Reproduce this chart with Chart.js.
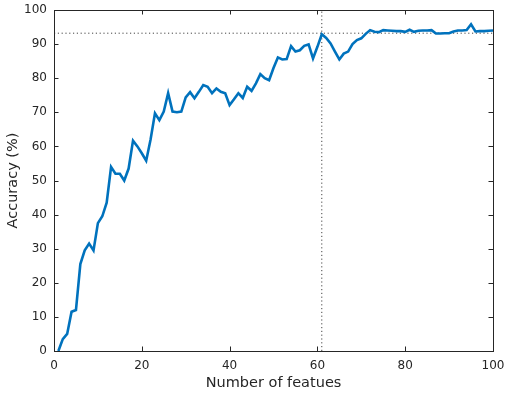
<!DOCTYPE html>
<html>
<head>
<meta charset="utf-8">
<script src="https://cdn.jsdelivr.net/npm/chart.js@4/dist/chart.umd.min.js"></script>
<style>
  html,body{margin:0;padding:0;background:#fff;}
  canvas{display:block;}
</style>
</head>
<body>
<canvas id="c" width="510" height="395"></canvas>
<script>
// number of features (x) and classification accuracy in % (y)
const features = [1,2,3,4,5,6,7,8,9,10,11,12,13,14,15,16,17,18,19,20,
  21,22,23,24,25,26,27,28,29,30,31,32,33,34,35,36,37,38,39,40,
  41,42,43,44,45,46,47,48,49,50,51,52,53,54,55,56,57,58,59,60,
  61,62,63,64,65,66,67,68,69,70,71,72,73,74,75,76,77,78,79,80,
  81,82,83,84,85,86,87,88,89,90,91,92,93,94,95,96,97,98,99,100];
const accuracy = [0,3.5,5,11.5,12,25.5,29.5,31.5,29.5,37.5,
  39.5,43.5,54,52,52,50,53.5,61.7,60,58,
  55.8,62,69.7,67.7,70.2,75.6,70.2,70,70.2,74.4,
  75.9,74.1,76,78,77.5,75.6,77,76,75.6,72.1,
  73.8,75.6,74.2,77.5,76.3,78.5,81.2,80,79.4,83,
  86.1,85.5,85.6,89.4,87.8,88.2,89.5,89.9,85.8,89.2,
  92.9,91.8,90.2,87.8,85.5,87.2,87.8,90,91.2,91.7,
  93,94.1,93.6,93.5,94.1,94,93.9,93.8,93.8,93.6,
  94.2,93.6,93.9,94,94,94.1,93.1,93.1,93.2,93.2,
  93.7,94,94,94.1,95.8,93.7,93.8,93.8,93.9,94];
const bestFeatures = 61;
const bestAccuracy = 93.2;
const xTicks = [0,20,40,60,80,100];
const yTicks = [0,10,20,30,40,50,60,70,80,90,100];

const axisColor = '#262626';
const fontFam = '"DejaVu Sans", sans-serif';

// MATLAB style box with ticks pointing inward
const boxPlugin = {
  id:'box',
  afterDatasetsDraw(chart){
    const {ctx, chartArea:a, scales:{x,y}} = chart;
    ctx.save();
    ctx.strokeStyle = axisColor;
    ctx.lineWidth = 1;
    const L = 4.5;
    ctx.beginPath();
    xTicks.forEach(v=>{
      const px = Math.round(x.getPixelForValue(v))+0.5;
      ctx.moveTo(px,a.bottom); ctx.lineTo(px,a.bottom-L);
      ctx.moveTo(px,a.top); ctx.lineTo(px,a.top+L);
    });
    yTicks.forEach(v=>{
      const py = Math.round(y.getPixelForValue(v))+0.5;
      ctx.moveTo(a.left,py); ctx.lineTo(a.left+L,py);
      ctx.moveTo(a.right,py); ctx.lineTo(a.right-L,py);
    });
    ctx.stroke();
    ctx.strokeRect(Math.round(a.left)+0.5, Math.round(a.top)+0.5,
      Math.round(a.right-a.left), Math.round(a.bottom-a.top));
    ctx.restore();
  }
};

new Chart(document.getElementById('c'),{
  type:'line',
  data:{datasets:[
    {data:features.map((f,i)=>({x:f,y:accuracy[i]})),
     borderColor:'#0072BD',borderWidth:2.6,pointRadius:0,tension:0,fill:false},
    {data:[{x:0,y:bestAccuracy},{x:100,y:bestAccuracy}],
     borderColor:'#444',borderWidth:1,borderDash:[1.2,2.6],pointRadius:0},
    {data:[{x:bestFeatures,y:0},{x:bestFeatures,y:100}],
     borderColor:'#444',borderWidth:1,borderDash:[1.2,2.6],pointRadius:0}
  ]},
  options:{
    responsive:false,animation:false,
    layout:{padding:{top:10,right:17,left:0,bottom:0}},
    plugins:{legend:{display:false},tooltip:{enabled:false}},
    scales:{
      x:{type:'linear',min:0,max:100,
        afterBuildTicks:s=>{s.ticks=xTicks.map(v=>({value:v}));},
        afterFit:s=>{s.height=44;s.paddingLeft=0;s.paddingRight=0;},
        grid:{display:false,drawTicks:false},border:{display:false},
        ticks:{color:axisColor,padding:8,maxRotation:0,font:{family:fontFam,size:12}},
        title:{display:true,text:'Number of featues',color:axisColor,
          font:{family:fontFam,size:14.5},padding:{top:0,bottom:3}}},
      y:{min:0,max:100,
        afterBuildTicks:s=>{s.ticks=yTicks.map(v=>({value:v}));},
        afterFit:s=>{s.width=54;s.paddingTop=0;s.paddingBottom=0;},
        grid:{display:false,drawTicks:false},border:{display:false},
        ticks:{color:axisColor,padding:7,font:{family:fontFam,size:12}},
        title:{display:true,text:'Accuracy (%)',color:axisColor,
          font:{family:fontFam,size:14.5},padding:{top:5,bottom:0}}}
    }
  },
  plugins:[boxPlugin]
});
</script>
</body>
</html>
